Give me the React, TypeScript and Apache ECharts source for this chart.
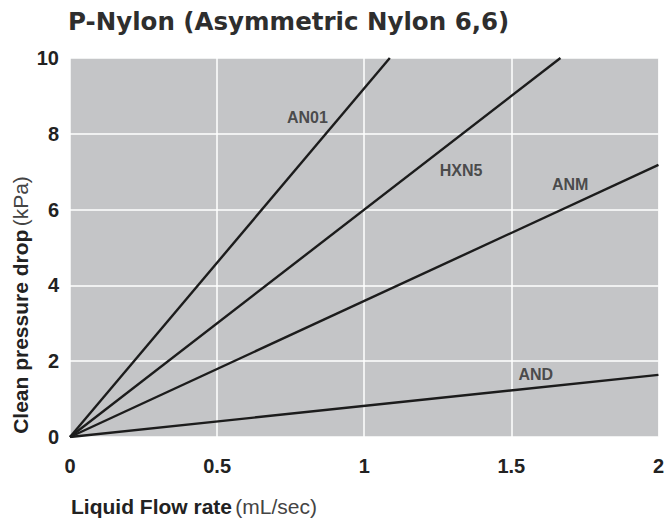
import React, { useEffect, useRef } from "react";
import * as echarts from "echarts";

const title = "P-Nylon (Asymmetric Nylon 6,6)";
const xTicks = [0, 0.5, 1, 1.5, 2];
const yTicks = [0, 2, 4, 6, 8, 10];
const seriesNames = ["AN01", "HXN5", "ANM", "AND"];
// end points of each straight line (start at origin)
const endX = [1.087, 1.667, 2, 2];
const endY = [10, 10, 7.18, 1.64];
// label positions in data coordinates
const labelX = [0.807, 1.329, 1.70, 1.583];
const labelY = [8.44, 7.04, 6.67, 1.64];

export default function App() {
  const ref = useRef<HTMLDivElement>(null);
  useEffect(() => {
    if (!ref.current) return;
    const chart = echarts.init(ref.current, undefined, { renderer: "svg" });
    const lineSeries = seriesNames.map((n, i) => ({
      type: "line",
      name: n,
      data: [
        [0, 0],
        [endX[i], endY[i]],
      ],
      symbol: "none",
      lineStyle: { color: "#1c1c1c", width: 2.4 },
      clip: true,
      z: 3,
    }));
    const labelSeries = {
      type: "scatter",
      symbolSize: 0,
      data: seriesNames.map((n, i) => ({ value: [labelX[i], labelY[i]], name: n })),
      label: {
        show: true,
        position: "inside",
        formatter: (p: any) => p.name,
        color: "#2a2a2a",
        fontFamily: "Liberation Sans",
        fontWeight: "bold",
        fontSize: 16,
      },
      z: 4,
    };
    const nameRich = {
      b: { fontFamily: "Liberation Sans", fontWeight: "bold", fontSize: 21, fill: "#222222" },
      r: { fontFamily: "Liberation Sans", fontWeight: "normal", fontSize: 21, fill: "#444444" },
    };
    chart.setOption({
      animation: false,
      backgroundColor: "#ffffff",
      title: {
        text: title,
        left: 63,
        top: 4,
        textStyle: {
          fontFamily: "DejaVu Sans",
          fontWeight: "bold",
          fontSize: 24.5,
          color: "#2e2e2e",
        },
      },
      grid: { left: 70, top: 58, right: 8, bottom: 87, show: true, backgroundColor: "#c4c5c7", borderWidth: 0 },
      xAxis: {
        type: "value",
        min: 0,
        max: 2,
        interval: 0.5,
        axisLine: { show: false },
        axisTick: { show: false },
        splitLine: { show: true, lineStyle: { color: "#ffffff", width: 1.5 } },
        axisLabel: {
          margin: 19,
          color: "#222222",
          fontFamily: "Liberation Sans",
          fontWeight: "bold",
          fontSize: 20,
          formatter: (v: number) => (xTicks.includes(v) ? String(v) : ""),
        },
      },
      yAxis: {
        type: "value",
        min: 0,
        max: 10,
        interval: 2,
        axisLine: { show: false },
        axisTick: { show: false },
        splitLine: { show: true, lineStyle: { color: "#ffffff", width: 1.5 } },
        axisLabel: {
          margin: 11,
          color: "#222222",
          fontFamily: "Liberation Sans",
          fontWeight: "bold",
          fontSize: 20,
          formatter: (v: number) => (yTicks.includes(v) ? String(v) : ""),
        },
      },
      graphic: [
        {
          type: "text",
          x: 71,
          y: 506,
          style: {
            text: "{b|Liquid Flow rate} {r|(mL/sec)}",
            verticalAlign: "middle",
            rich: nameRich,
          },
        },
        {
          type: "text",
          x: 20,
          y: 305,
          rotation: Math.PI / 2,
          style: {
            text: "{b|Clean pressure drop} {r|(kPa)}",
            align: "center",
            verticalAlign: "middle",
            rich: nameRich,
          },
        },
      ],
      series: [...lineSeries, labelSeries],
    });
    return () => chart.dispose();
  }, []);
  return <div ref={ref} style={{ width: 667, height: 524, position: "absolute", left: 0, top: 0 }} />;
}
